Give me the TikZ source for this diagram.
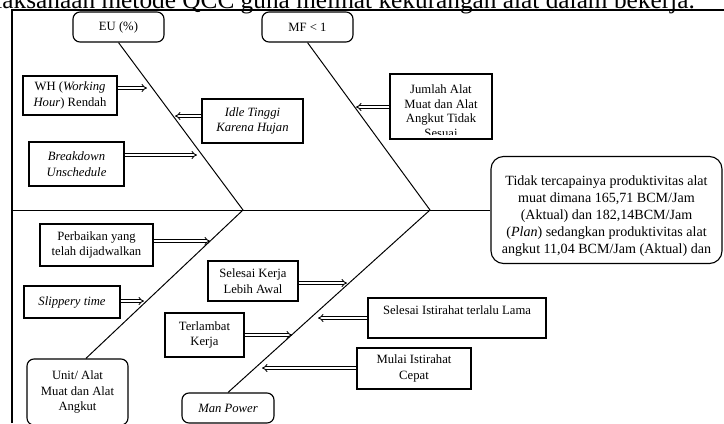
\documentclass[tikz,border=0pt]{standalone}
\usepackage{fontspec}
\setmainfont{Liberation Serif}
\usetikzlibrary{arrows.meta}
\tikzset{
  cause/.style={draw, line width=0.8pt, align=center, font=\fontsize{9}{11.3}\selectfont, inner sep=2pt},
  cat/.style={cause, rounded corners=5pt},
  effect/.style={draw, line width=0.8pt, rounded corners=9pt},
  bone/.style={line width=0.7pt},
  link/.style={line width=0.6pt, double=white, double distance=1.3pt, -{Implies}},
}

\begin{document}
\begin{tikzpicture}[x=0.025cm, y=-0.025cm]
  \clip (0,0) rectangle (724,423);
  \useasboundingbox (0,0) rectangle (724,423);

  % running text of the page, cut by the crop
  \node[anchor=base east, inner sep=0pt, font=\fontsize{18}{20}\selectfont] (caption) at (695,8)
    {pelaksanaan metode QCC guna melihat kekurangan alat dalam bekerja.};
  \draw[line width=1.3pt] (12,423) -- (12,10) -- (724,10);

  % effect
  \node[effect, minimum width=5.775cm, minimum height=2.675cm] (head) at (606.5,210) {};
  \node[align=center, font=\fontsize{10}{12}\selectfont] (headtxt) at (606.5,216)
    {Tidak tercapainya produktivitas alat\\muat dimana 165,71 BCM/Jam\\(Aktual) dan 182,14BCM/Jam\\(\textit{Plan}) sedangkan produktivitas alat\\angkut 11,04 BCM/Jam (Aktual) dan};

  % categories
  \node[cat, minimum width=2.275cm, minimum height=0.75cm] (eu) at (118.5,27) {EU (\%)};
  \node[cat, minimum width=2.275cm, minimum height=0.75cm] (mf) at (307.5,27) {MF < 1};
  \node[cat, minimum width=2.525cm, minimum height=1.65cm] (unit) at (77.5,392) {Unit/ Alat\\Muat dan Alat\\Angkut};
  \node[cat, minimum width=2.3cm, minimum height=0.75cm] (mp) at (228,408) {\textit{Man Power}};

  % spine and bones
  \coordinate (tail) at (12,210);
  \coordinate (j1) at (243,210);
  \coordinate (j2) at (430,210);
  \draw[bone] (tail) -- (head.west);
  \draw[bone] (eu.south) -- (j1) -- ([xshift=0.21cm]unit.north);
  \draw[bone] (mf.south) -- (j2) -- (mp.north);

  % causes
  \node[cause, minimum width=2.35cm, minimum height=0.975cm] (wh) at (70,95.5) {WH (\textit{Working}\\\textit{Hour}) Rendah};
  \node[cause, minimum width=2.525cm, minimum height=1.1cm, font=\fontsize{9}{11.3}\selectfont\itshape] (idle) at (252.5,121) {Idle Tinggi\\Karena Hujan};
  \node[cause, minimum width=2.375cm, minimum height=1.1cm, font=\fontsize{9}{11.3}\selectfont\itshape] (brk) at (76.5,164) {Breakdown\\Unschedule};
  \node[cause, minimum width=2.55cm, minimum height=1.625cm] (jml) at (441,106.5) {};
  \begin{scope}
    \clip (jml.north west) rectangle (492,134);
    \node[align=center, font=\fontsize{9}{10.4}\selectfont] (jmltxt) at (441,111) {Jumlah Alat\\Muat dan Alat\\Angkut Tidak\\Sesuai};
  \end{scope}
  \node[cause, minimum width=2.825cm, minimum height=1.05cm] (pbk) at (96.5,245) {Perbaikan yang\\telah dijadwalkan};
  \node[cause, minimum width=2.4cm, minimum height=0.8cm] (slip) at (72,302) {\textit{Slippery time}};
  \node[cause, minimum width=2.25cm, minimum height=1.0cm] (skl) at (253,281) {Selesai Kerja\\Lebih Awal};
  \node[cause, minimum width=1.975cm, minimum height=1.1cm] (tlk) at (204.5,335) {Terlambat\\Kerja};
  \node[cause, minimum width=4.45cm, minimum height=1.0cm] (sil) at (457,318) {Selesai Istirahat terlalu Lama\\\mbox{}};
  \node[cause, minimum width=2.85cm, minimum height=1.025cm] (mul) at (414,368.5) {Mulai Istirahat\\Cepat};

  % arrow tips on the bones
  \coordinate (tWH) at (147,88);
  \coordinate (tIdle) at (175,116);
  \coordinate (tBrk) at (197,155);
  \coordinate (tJml) at (356,107);
  \coordinate (tPbk) at (210,241);
  \coordinate (tSlip) at (144,301);
  \coordinate (tSkl) at (347,283);
  \coordinate (tTlk) at (292,335);
  \coordinate (tSil) at (318,318);
  \coordinate (tMul) at (262,368);

  \draw[link] (wh.east |- tWH) -- (tWH);
  \draw[link] (idle.west |- tIdle) -- (tIdle);
  \draw[link] (brk.east |- tBrk) -- (tBrk);
  \draw[link] (jml.west |- tJml) -- (tJml);
  \draw[link] (pbk.east |- tPbk) -- (tPbk);
  \draw[link] (slip.east |- tSlip) -- (tSlip);
  \draw[link] (skl.east |- tSkl) -- (tSkl);
  \draw[link] (tlk.east |- tTlk) -- (tTlk);
  \draw[link] (sil.west |- tSil) -- (tSil);
  \draw[link] (mul.west |- tMul) -- (tMul);
\end{tikzpicture}
\end{document}
